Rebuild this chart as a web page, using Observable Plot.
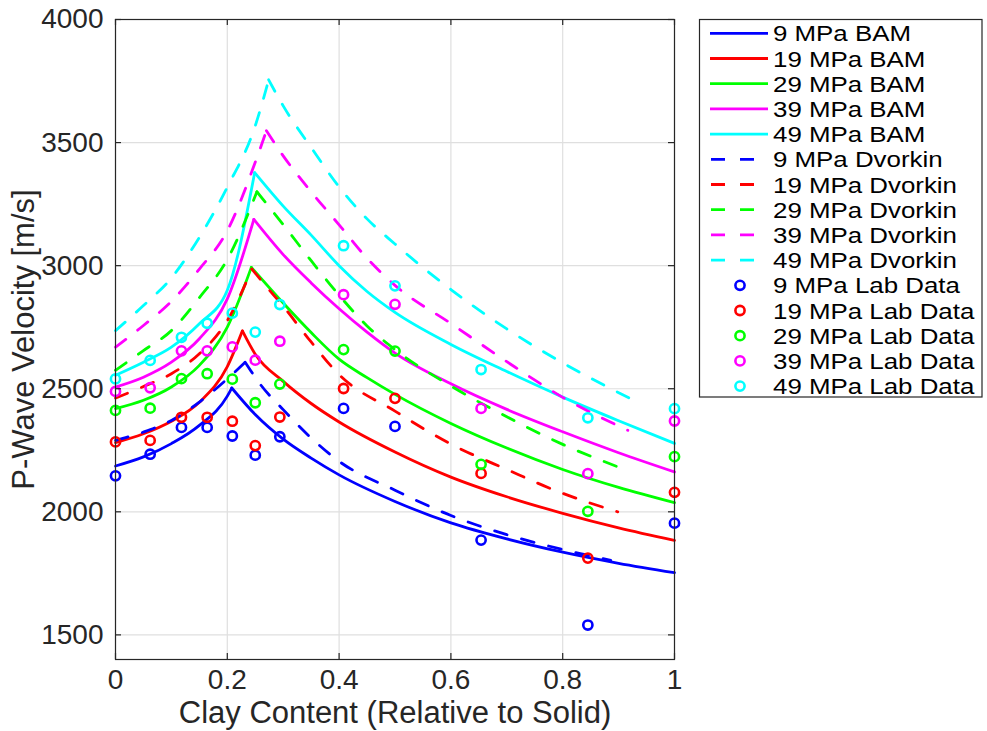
<!DOCTYPE html>
<html><head><meta charset="utf-8">
<script src="https://cdn.jsdelivr.net/npm/d3@7"></script>
<script src="https://cdn.jsdelivr.net/npm/@observablehq/plot@0.6"></script>
<style>
html,body{margin:0;padding:0;background:#fff;}
#wrap{position:relative;width:987px;height:731px;overflow:hidden;}
#legend{position:absolute;left:0;top:0;}
</style></head><body><div id="wrap"></div>
<script>
// ---- tick labels / categories ----
const xTicks = [0, 0.2, 0.4, 0.6, 0.8, 1];
const yTicks = [1500, 2000, 2500, 3000, 3500, 4000];
const pressures = ["9", "19", "29", "39", "49"];
const colors = ["#0000ff", "#ff0000", "#00ff00", "#ff00ff", "#00ffff"];
const xLabel = "Clay Content (Relative to Solid)";
const yLabel = "P-Wave Velocity [m/s]";

// ---- lab data ----
const labX  = [0, 0.062, 0.118, 0.164, 0.209, 0.25, 0.294, 0.408, 0.5, 0.654, 0.845, 1.0];
const lab9  = [2146, 2234, 2343, 2343, 2308, 2230, 2305, 2420, 2347, 1885, 1540, 1954];
const lab19 = [2284, 2290, 2384, 2384, 2368, 2269, 2385, 2501, 2461, 2156, 1812, 2079];
const lab29 = [2412, 2421, 2541, 2561, 2539, 2443, 2519, 2659, 2653, 2193, 2002, 2224];
const lab39 = [2489, 2504, 2654, 2654, 2670, 2616, 2693, 2882, 2843, 2420, 2155, 2369];
const lab49 = [2540, 2615, 2709, 2766, 2807, 2730, 2842, 3081, 2918, 2578, 2382, 2419];

// ---- BAM model curves [x, velocity] ----
const bam9  = [[0,2186],[0.05,2223],[0.1,2277],[0.15,2351],[0.2,2470],[0.208,2503],[0.25,2395],[0.3,2295],[0.35,2218],[0.4,2150],[0.5,2042],[0.6,1955],[0.7,1890],[0.8,1836],[0.9,1791],[1,1753]];
const bam19 = [[0,2281],[0.05,2317],[0.1,2368],[0.15,2445],[0.2,2590],[0.227,2735],[0.25,2640],[0.3,2530],[0.35,2440],[0.4,2365],[0.5,2243],[0.6,2141],[0.7,2061],[0.8,1994],[0.9,1935],[1,1884]];
const bam29 = [[0,2419],[0.05,2453],[0.1,2507],[0.15,2595],[0.2,2750],[0.243,2993],[0.3,2848],[0.35,2728],[0.4,2620],[0.45,2545],[0.5,2477],[0.6,2359],[0.7,2259],[0.8,2172],[0.9,2099],[1,2037]];
const bam39 = [[0,2507],[0.05,2547],[0.1,2608],[0.15,2703],[0.2,2865],[0.2475,3188],[0.3,3045],[0.35,2930],[0.4,2825],[0.45,2730],[0.5,2645],[0.6,2520],[0.7,2416],[0.8,2325],[0.9,2240],[1,2162]];
const bam49 = [[0,2555],[0.05,2608],[0.1,2669],[0.15,2764],[0.2,2900],[0.249,3378],[0.3,3242],[0.35,3124],[0.4,3000],[0.45,2895],[0.5,2810],[0.6,2680],[0.7,2570],[0.8,2466],[0.9,2370],[1,2278]];

// ---- Dvorkin model curves [x, velocity] ----
const dv9  = [[0,2290],[0.05,2324],[0.1,2371],[0.15,2446],[0.2,2540],[0.232,2608],[0.26,2515],[0.3,2415],[0.35,2300],[0.4,2205],[0.5,2088],[0.6,1985],[0.7,1907],[0.8,1847],[0.886,1803]];
const dv19 = [[0,2462],[0.05,2509],[0.1,2561],[0.15,2642],[0.2,2777],[0.244,2986],[0.268,2920],[0.3,2835],[0.35,2690],[0.4,2557],[0.5,2409],[0.6,2275],[0.7,2172],[0.8,2075],[0.8985,2000]];
const dv29 = [[0,2575],[0.05,2655],[0.1,2736],[0.15,2870],[0.2,3025],[0.253,3300],[0.3,3167],[0.35,3020],[0.4,2880],[0.45,2755],[0.5,2659],[0.6,2511],[0.7,2386],[0.8,2274],[0.91,2173]];
const dv39 = [[0,2669],[0.05,2757],[0.1,2855],[0.15,2986],[0.2,3142],[0.25,3420],[0.27,3548],[0.3,3446],[0.35,3300],[0.4,3166],[0.45,3030],[0.5,2920],[0.6,2765],[0.7,2610],[0.8,2465],[0.9165,2331]];
const dv49 = [[0,2736],[0.05,2838],[0.1,2950],[0.15,3115],[0.2,3319],[0.25,3568],[0.274,3755],[0.3,3649],[0.35,3480],[0.4,3320],[0.45,3190],[0.5,3088],[0.6,2903],[0.7,2743],[0.8,2605],[0.922,2459]];

const bamSeries = [bam9, bam19, bam29, bam39, bam49];
const dvSeries = [dv9, dv19, dv29, dv39, dv49];
const labSeries = [lab9, lab19, lab29, lab39, lab49];

// split each model curve at its cusp (maximum) so each branch is smooth
function branches(name, pts) {
  const k = d3.maxIndex(pts, p => p[1]);
  return [
    ...pts.slice(0, k + 1).map(p => ({x: p[0], y: p[1], seg: name + "L"})),
    ...pts.slice(k).map(p => ({x: p[0], y: p[1], seg: name + "R"}))
  ];
}

const W = 987, H = 731;
const mL = 115, mR = 313, mT = 19, mB = 72;
const innerW = W - mL - mR, innerH = H - mT - mB;
const DASH = "13,15";
const LW = 2.8;
const FONT = "'Liberation Sans', Arial, Helvetica, sans-serif";

const marks = [
  Plot.ruleX(xTicks, {x: d => d, stroke: "#dfdfdf", strokeWidth: 1.2}),
  Plot.ruleY(yTicks, {y: d => d, stroke: "#dfdfdf", strokeWidth: 1.2})
];
bamSeries.forEach((s, i) => marks.push(Plot.line(branches("b" + i, s), {x: "x", y: "y", z: "seg", stroke: colors[i], strokeWidth: LW, curve: "monotone-x"})));
dvSeries.forEach((s, i) => marks.push(Plot.line(branches("d" + i, s), {x: "x", y: "y", z: "seg", stroke: colors[i], strokeWidth: LW, curve: "monotone-x", strokeDasharray: DASH})));
labSeries.forEach((s, i) => marks.push(Plot.dot(s.map((v, j) => ({x: labX[j], y: v})), {x: "x", y: "y", r: 4.6, stroke: colors[i], strokeWidth: 2.6, fill: "none"})));
marks.push(
  Plot.frame({stroke: "#262626", strokeWidth: 1.2}),
  Plot.ruleX(xTicks, {x: d => d, insetTop: innerH - 6, stroke: "#262626", strokeWidth: 1.2}),
  Plot.ruleX(xTicks, {x: d => d, insetBottom: innerH - 6, stroke: "#262626", strokeWidth: 1.2}),
  Plot.ruleY(yTicks, {y: d => d, insetRight: innerW - 6, stroke: "#262626", strokeWidth: 1.2}),
  Plot.ruleY(yTicks, {y: d => d, insetLeft: innerW - 6, stroke: "#262626", strokeWidth: 1.2}),
  Plot.axisX({ticks: xTicks, tickFormat: d => String(d), tickSize: 0, tickPadding: 10, fontSize: 28, label: null, fill: "#262626"}),
  Plot.axisY({ticks: yTicks, tickFormat: d => String(d), tickSize: 0, tickPadding: 12, fontSize: 28, label: null, fill: "#262626"}),
  Plot.text([xLabel], {text: d => d, frameAnchor: "bottom", lineAnchor: "middle", textAnchor: "middle", dy: 54, fontSize: 31, fill: "#262626"}),
  Plot.text([yLabel], {text: d => d, frameAnchor: "left", lineAnchor: "middle", textAnchor: "middle", dx: -91, rotate: -90, fontSize: 31, fill: "#262626"})
);

const chart = Plot.plot({
  width: W, height: H,
  marginLeft: mL, marginRight: mR, marginTop: mT, marginBottom: mB,
  x: {domain: [0, 1]},
  y: {domain: [1400, 4000]},
  style: {fontFamily: FONT, background: "#fff", color: "#262626"},
  marks
});
const wrap = document.getElementById("wrap");
wrap.appendChild(chart);

// ---- legend (overlay) ----
const legendLabels = [
  ...pressures.map(p => p + " MPa BAM"),
  ...pressures.map(p => p + " MPa Dvorkin"),
  ...pressures.map(p => p + " MPa Lab Data")
];
const ns = "http://www.w3.org/2000/svg";
const lg = document.createElementNS(ns, "svg");
lg.setAttribute("id", "legend");
lg.setAttribute("width", W); lg.setAttribute("height", H);
lg.style.fontFamily = FONT;
function el(tag, attrs, parent) {
  const e = document.createElementNS(ns, tag);
  for (const k in attrs) e.setAttribute(k, attrs[k]);
  parent.appendChild(e); return e;
}
el("rect", {x: 699.5, y: 19.5, width: 282.5, height: 377.5, fill: "#fff", stroke: "#262626", "stroke-width": 1.2}, lg);
legendLabels.forEach((lab, i) => {
  const cy = 33.3 + i * 25.2;
  const c = colors[i % 5];
  const kind = Math.floor(i / 5);
  if (kind === 0) el("line", {x1: 710, x2: 768, y1: cy, y2: cy, stroke: c, "stroke-width": LW}, lg);
  else if (kind === 1) el("line", {x1: 711, x2: 768, y1: cy, y2: cy, stroke: c, "stroke-width": LW, "stroke-dasharray": "14,15"}, lg);
  else el("circle", {cx: 740, cy: cy, r: 4.6, fill: "none", stroke: c, "stroke-width": 2.6}, lg);
  const t = el("text", {x: 0, y: 0, transform: `translate(773,${(cy + 8.1).toFixed(1)}) scale(1.15,1)`, "font-size": 22.5, fill: "#000"}, lg);
  t.textContent = lab;
});
wrap.appendChild(lg);
</script>
</body></html>
